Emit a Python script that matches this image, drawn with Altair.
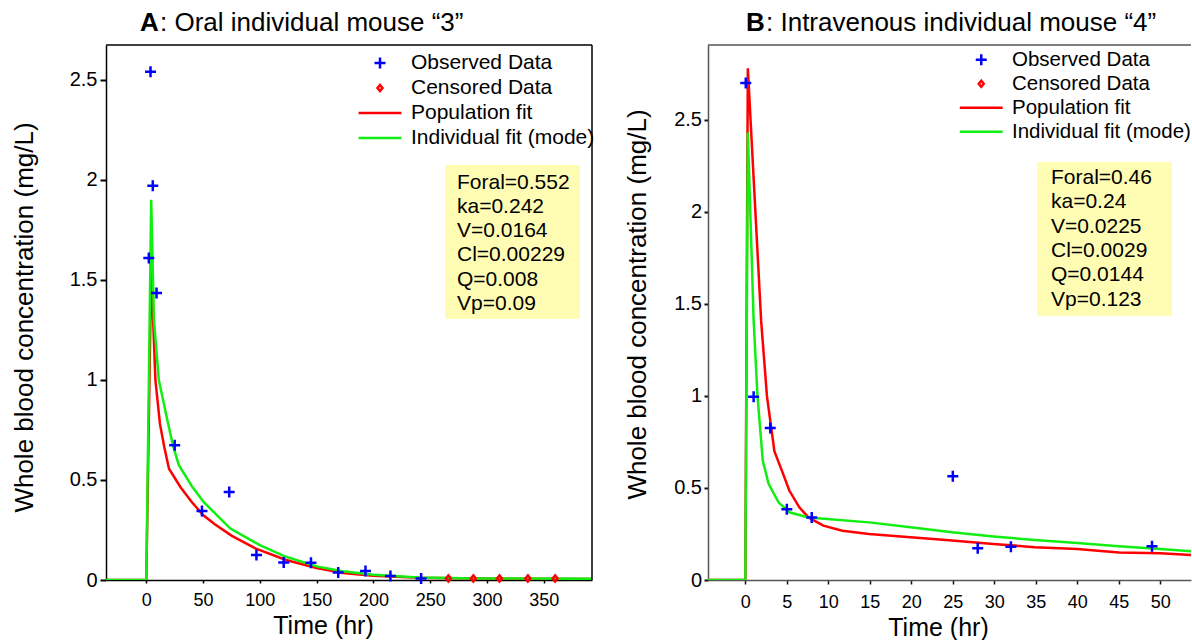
import altair as alt
import pandas as pd

FONT = "Liberation Sans"

# ---------------- shared legend definition ----------------
SERIES = ["Observed Data", "Censored Data", "Population fit", "Individual fit (mode)"]
SERIES_COLORS = ["#0000ff", "#ff0000", "#ff0000", "#11ee11"]
FITS = ["Population fit", "Individual fit (mode)"]
FIT_COLORS = ["#ff0000", "#11ee11"]
PLUS = "M-1,0H1M0,-1V1"
DIAMOND = "M0,-0.55L0.45,0L0,0.55L-0.45,0Z"
LEGEND_LINE = "M-3.9,0H3.9"
SERIES_SHAPES = [PLUS, DIAMOND, LEGEND_LINE, LEGEND_LINE]
BOX_COLOR = "#fffdb3"

# ---------------- Panel A: oral, mouse 3 ----------------
A_TITLE = ["A", ": Oral individual mouse \u201c3\u201d"]
A_OBS_T = [2.2, 3.7, 5.7, 9, 25, 49, 73, 97, 121, 145, 169, 193, 215, 242]
A_OBS_C = [1.61, 2.54, 1.97, 1.435, 0.673, 0.345, 0.44, 0.125, 0.088, 0.086, 0.037, 0.045, 0.02, 0.008]
A_CENS_T = [266, 288, 311, 336, 360]
A_CENS_C = [0.008, 0.008, 0.008, 0.008, 0.008]
A_POP_T = [-36, 0, 4.5, 6, 8, 12, 16, 20, 30, 40, 50, 60, 75, 96, 123, 150, 173, 200, 240, 290, 392.5]
A_POP_C = [0, 0, 1.62, 1.30, 1.0, 0.78, 0.66, 0.556, 0.465, 0.39, 0.325, 0.28, 0.222, 0.158, 0.10, 0.06, 0.035, 0.021, 0.011, 0.007, 0.005]
A_IND_T = [-36, 0, 4.3, 6.7, 11, 18.5, 23.6, 28.6, 40, 50.5, 74, 100, 123, 150, 173, 200, 240, 290, 392.5]
A_IND_C = [0, 0, 1.9, 1.30, 1.0, 0.80, 0.67, 0.575, 0.47, 0.39, 0.257, 0.174, 0.116, 0.068, 0.044, 0.026, 0.013, 0.008, 0.006]
A_X_TICKS = [0, 50, 100, 150, 200, 250, 300, 350]
A_Y_TICKS = [0, 0.5, 1, 1.5, 2, 2.5]
A_PARAMS = ["Foral=0.552", "ka=0.242", "V=0.0164", "Cl=0.00229", "Q=0.008", "Vp=0.09"]

# ---------------- Panel B: intravenous, mouse 4 ----------------
B_TITLE = ["B", ": Intravenous individual mouse \u201c4\u201d"]
B_OBS_T = [0.05, 1, 3, 5, 8, 25, 28, 32, 49]
B_OBS_C = [2.70, 0.996, 0.826, 0.384, 0.34, 0.563, 0.172, 0.181, 0.183]
B_CENS_T = []
B_CENS_C = []
B_POP_T = [-4.6, 0, 0.3, 1.9, 2.6, 3.5, 4.4, 5.3, 6.5, 7.6, 9.4, 11.7, 14.9, 19.9, 24.9, 29.9, 34.9, 40, 45, 50, 53.8]
B_POP_C = [0, 0, 2.78, 1.41, 1.0, 0.70, 0.594, 0.486, 0.395, 0.34, 0.295, 0.268, 0.25, 0.232, 0.214, 0.196, 0.178, 0.168, 0.15, 0.145, 0.136]
B_IND_T = [-4.6, 0, 0.3, 1.0, 1.46, 2.1, 2.8, 4.0, 5.3, 7.6, 14.9, 19.9, 24.9, 29.9, 34.9, 40, 45, 50, 53.8]
B_IND_C = [0, 0, 2.43, 1.41, 1.0, 0.649, 0.522, 0.422, 0.368, 0.34, 0.313, 0.286, 0.259, 0.236, 0.217, 0.201, 0.183, 0.168, 0.156]
B_X_TICKS = [0, 5, 10, 15, 20, 25, 30, 35, 40, 45, 50]
B_Y_TICKS = [0, 0.5, 1, 1.5, 2, 2.5]
B_PARAMS = ["Foral=0.46", "ka=0.24", "V=0.0225", "Cl=0.0029", "Q=0.0144", "Vp=0.123"]

Y_TITLE = "Whole blood concentration (mg/L)"
X_TITLE = "Time (hr)"

GEO_A = dict(w=486, h=535, xdom=[-35.5, 392.5], ydom=[0, 2.674],
             frame="black", tick="black", right_frame=True,
             legx=263.5, legy=7.5, legfont=21, box=[339, 474, 120, 274], tx=351, ty=143.5,
             t1=34, t2=54, ty_title=-14,
             ytx=-74, yty=272, xtx=217, xty=53.5,
             xtick=3, xpad=8, ytick=6, ypad=3)
GEO_B = dict(w=483, h=535, xdom=[-4.5, 53.7], ydom=[0, 2.906],
             frame="#555555", tick="#111111", right_frame=False,
             legx=263, legy=4.5, legfont=20.5, box=[329, 464, 117, 271], tx=343, ty=139,
             t1=38, t2=58, ty_title=-14,
             ytx=-63, yty=259, xtx=230, xty=55,
             xtick=4, xpad=9.5, ytick=4, ypad=2.5)


def panel(obs_t, obs_c, cens_t, cens_c, pop_t, pop_c, ind_t, ind_c,
          xticks, yticks, params, title, g):
    W, H = g["w"], g["h"]
    pts = pd.DataFrame({
        "t": obs_t + cens_t,
        "c": obs_c + cens_c,
        "series": ["Observed Data"] * len(obs_t) + ["Censored Data"] * len(cens_t),
    })
    lines = pd.DataFrame({
        "t": pop_t + ind_t,
        "c": pop_c + ind_c,
        "series": ["Population fit"] * len(pop_t) + ["Individual fit (mode)"] * len(ind_t),
        "i": list(range(len(pop_t))) + list(range(len(ind_t))),
    })
    one = pd.DataFrame({"k": [0]})

    x = alt.X("t:Q", scale=alt.Scale(domain=g["xdom"], nice=False, zero=False),
              axis=alt.Axis(values=xticks, title=X_TITLE, titleFont=FONT, titleFontSize=25,
                            titleFontWeight="normal", titleColor="black",
                            titleX=g["xtx"], titleY=g["xty"], titleAlign="center",
                            titleBaseline="alphabetic",
                            labelFont=FONT, labelFontSize=18, labelColor="black",
                            labelPadding=g["xpad"], tickSize=g["xtick"], tickWidth=1.5,
                            tickColor=g["tick"], domainColor=g["frame"], domainWidth=1.5,
                            grid=False, labelFlush=False, labelOverlap=False))
    y = alt.Y("c:Q", scale=alt.Scale(domain=g["ydom"], nice=False, zero=False),
              axis=alt.Axis(values=yticks, format="~g", title=Y_TITLE, titleFont=FONT,
                            titleFontSize=26, titleFontWeight="normal", titleColor="black",
                            titleAngle=270, titleX=g["ytx"], titleY=g["yty"],
                            titleAlign="center", titleBaseline="alphabetic",
                            labelFont=FONT, labelFontSize=20, labelColor="black",
                            labelPadding=g["ypad"], tickSize=g["ytick"], tickWidth=2,
                            tickColor=g["tick"], domainColor=g["frame"], domainWidth=1.5,
                            grid=False, labelFlush=False, labelOverlap=False))

    color_scale = alt.Scale(domain=SERIES, range=SERIES_COLORS)
    shape_scale = alt.Scale(domain=SERIES, range=SERIES_SHAPES)
    leg = alt.Legend(title=None, orient="none", legendX=g["legx"], legendY=g["legy"],
                     symbolSize=121, symbolStrokeWidth=2.5, labelFont=FONT,
                     labelFontSize=g["legfont"], labelColor="black", labelOffset=20.5,
                     labelLimit=0, rowPadding=3, padding=0, symbolOpacity=1)

    box = alt.Chart(one).mark_rect(color=BOX_COLOR).encode(
        x=alt.value(g["box"][0]), x2=alt.value(g["box"][1]),
        y=alt.value(g["box"][2]), y2=alt.value(g["box"][3]))
    line_layer = alt.Chart(lines).mark_line(strokeWidth=2.5, clip=True).encode(
        x=x, y=y, order="i:Q",
        stroke=alt.Stroke("series:N", scale=alt.Scale(domain=FITS, range=FIT_COLORS),
                          legend=None))
    pt_layer = alt.Chart(pts).mark_point(filled=False, strokeWidth=2.5, size=121, opacity=1).encode(
        x=x, y=y,
        color=alt.Color("series:N", scale=color_scale, legend=leg),
        shape=alt.Shape("series:N", scale=shape_scale, legend=leg))
    txt = alt.Chart(one).mark_text(align="left", baseline="alphabetic", font=FONT,
                                   fontSize=21, lineHeight=24.3, color="black").encode(
        x=alt.value(g["tx"]), y=alt.value(g["ty"]), text=alt.value(params))
    top = alt.Chart(one).mark_rule(color=g["frame"], strokeWidth=1.5).encode(
        x=alt.value(0), x2=alt.value(W), y=alt.value(0))
    layers = [box, line_layer, pt_layer, txt, top]
    if g["right_frame"]:
        layers.append(alt.Chart(one).mark_rule(color=g["frame"], strokeWidth=1.5).encode(
            x=alt.value(W), y=alt.value(0), y2=alt.value(H)))
    t1 = alt.Chart(one).mark_text(align="left", baseline="alphabetic", font=FONT,
                                  fontSize=26, fontWeight="bold", color="black").encode(
        x=alt.value(g["t1"]), y=alt.value(g["ty_title"]), text=alt.value(title[0]))
    t2 = alt.Chart(one).mark_text(align="left", baseline="alphabetic", font=FONT,
                                  fontSize=26, color="black").encode(
        x=alt.value(g["t2"]), y=alt.value(g["ty_title"]), text=alt.value(title[1]))
    layers += [t1, t2]
    return alt.layer(*layers).properties(width=W, height=H)


pa = panel(A_OBS_T, A_OBS_C, A_CENS_T, A_CENS_C, A_POP_T, A_POP_C, A_IND_T, A_IND_C,
           A_X_TICKS, A_Y_TICKS, A_PARAMS, A_TITLE, GEO_A)
pb = panel(B_OBS_T, B_OBS_C, B_CENS_T, B_CENS_C, B_POP_T, B_POP_C, B_IND_T, B_IND_C,
           B_X_TICKS, B_Y_TICKS, B_PARAMS, B_TITLE, GEO_B)

chart = alt.hconcat(pa, pb, spacing=116, bounds="flush").resolve_scale(
    x="independent", y="independent", color="independent", shape="independent",
    stroke="independent"
).resolve_legend(color="independent", shape="independent").properties(
    padding={"left": 10, "top": 10, "right": 0, "bottom": 0},
    background="white",
).configure_view(strokeWidth=0)

chart.save("out.html", embed_options={"renderer": "svg", "actions": False})
